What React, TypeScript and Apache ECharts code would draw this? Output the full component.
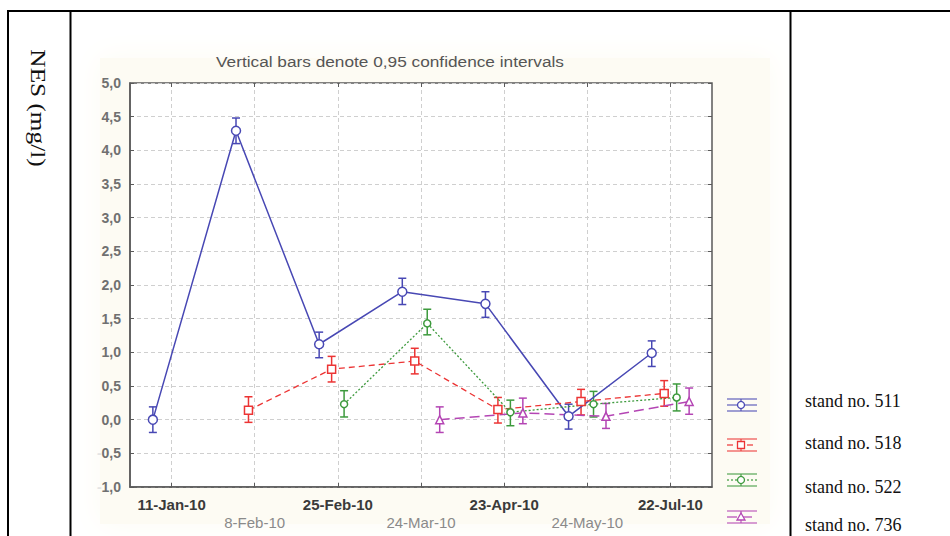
import React, { useEffect, useRef } from "react";
import * as echarts from "echarts";

const categories = ["11-Jan-10", "8-Feb-10", "25-Feb-10", "24-Mar-10", "23-Apr-10", "24-May-10", "22-Jul-10"];
const yTicks = { min: -1, max: 5, step: 0.5 };

const stand511 = [0.0, 4.29, 1.12, 1.9, 1.72, 0.05, 0.99];
const stand511Lo = [-0.19, 4.1, 0.92, 1.71, 1.52, -0.14, 0.79];
const stand511Hi = [0.19, 4.48, 1.3, 2.1, 1.9, 0.23, 1.17];

const stand518 = [null, 0.14, 0.75, 0.87, 0.15, 0.27, 0.39];
const stand518Lo = [null, -0.04, 0.56, 0.68, -0.05, 0.07, 0.2];
const stand518Hi = [null, 0.34, 0.94, 1.06, 0.33, 0.45, 0.58];

const stand522 = [null, null, 0.23, 1.43, 0.11, 0.23, 0.33];
const stand522Lo = [null, null, 0.04, 1.26, -0.09, 0.04, 0.13];
const stand522Hi = [null, null, 0.43, 1.64, 0.29, 0.42, 0.53];

const stand736 = [null, null, null, 0.0, 0.1, 0.05, 0.27];
const stand736Lo = [null, null, null, -0.19, -0.06, -0.13, 0.08];
const stand736Hi = [null, null, null, 0.19, 0.32, 0.24, 0.47];

const seriesNames = ["stand no. 511", "stand no. 518", "stand no. 522", "stand no. 736"];
const titleText = "Vertical bars denote 0,95 confidence intervals";
const yAxisTitle = "NES (mg/l)";

const SANS = "'Liberation Sans', Arial, sans-serif";
const SERIF = "'Liberation Serif', 'Times New Roman', serif";

const styles = [
  { color: "#4848b4", symbol: "circle", size: 9, dash: "solid" as any, width: 1.5, offset: -0.225 },
  { color: "#ec3434", symbol: "rect", size: 8, dash: [6, 4] as any, width: 1.3, offset: -0.075 },
  { color: "#3d9a3d", symbol: "circle", size: 7, dash: [2, 2] as any, width: 1.3, offset: 0.075 },
  { color: "#b445b4", symbol: "triangle", size: 8, dash: [10, 5] as any, width: 1.5, offset: 0.225 },
];

const means = [stand511, stand518, stand522, stand736];
const lows = [stand511Lo, stand518Lo, stand522Lo, stand736Lo];
const highs = [stand511Hi, stand518Hi, stand522Hi, stand736Hi];

export default function App() {
  const ref = useRef<HTMLDivElement>(null);
  useEffect(() => {
    if (!ref.current) return;
    const chart = echarts.init(ref.current, undefined, { renderer: "svg" });

    const series: any[] = [];
    means.forEach((m, si) => {
      const st = styles[si];
      const pts: any[] = [];
      const bars: any[] = [];
      m.forEach((v, i) => {
        if (v === null) return;
        pts.push([i + st.offset, v]);
        bars.push([i + st.offset, lows[si][i], highs[si][i]]);
      });
      series.push({
        type: "custom",
        name: seriesNames[si] + " CI",
        xAxisIndex: 1,
        yAxisIndex: 0,
        z: 3,
        data: bars,
        encode: { x: 0, y: [1, 2] },
        renderItem: (params: any, api: any) => {
          const x = api.value(0);
          const pLo = api.coord([x, api.value(1)]);
          const pHi = api.coord([x, api.value(2)]);
          const hw = 4;
          const s = { stroke: st.color, lineWidth: 1.5 };
          return {
            type: "group",
            children: [
              { type: "line", shape: { x1: pLo[0], y1: pLo[1], x2: pHi[0], y2: pHi[1] }, style: s },
              { type: "line", shape: { x1: pLo[0] - hw, y1: pLo[1], x2: pLo[0] + hw, y2: pLo[1] }, style: s },
              { type: "line", shape: { x1: pHi[0] - hw, y1: pHi[1], x2: pHi[0] + hw, y2: pHi[1] }, style: s },
            ],
          };
        },
      });
      series.push({
        type: "line",
        name: seriesNames[si],
        xAxisIndex: 1,
        yAxisIndex: 0,
        z: 4,
        data: pts,
        symbol: st.symbol,
        symbolSize: st.size,
        showAllSymbol: true,
        lineStyle: { color: st.color, width: st.width, type: st.dash },
        itemStyle: { color: "#ffffff", borderColor: st.color, borderWidth: 1.5 },
      });
    });

    const legendGraphics: any[] = [];
    const iconY = [405, 445, 480, 517];
    const textY = [401, 443, 487, 525];
    styles.forEach((st, i) => {
      const y = iconY[i];
      const x0 = 727, x1 = 757, xc = 741;
      const s = { stroke: st.color, lineWidth: 1.3, opacity: 0.8 };
      legendGraphics.push(
        { type: "line", shape: { x1: x0, y1: y - 6, x2: x1, y2: y - 6 }, style: s },
        { type: "line", shape: { x1: x0, y1: y + 6, x2: x1, y2: y + 6 }, style: s },
        { type: "line", shape: { x1: x0, y1: y, x2: x1, y2: y }, style: { ...s, lineDash: st.dash === "solid" ? null : st.dash } },
        { type: "line", shape: { x1: xc, y1: y - 6, x2: xc, y2: y + 6 }, style: s },
        st.symbol === "rect"
          ? { type: "rect", shape: { x: xc - 3.5, y: y - 3.5, width: 7, height: 7 }, style: { fill: "#fff", stroke: st.color, lineWidth: 1.3 } }
          : st.symbol === "triangle"
          ? { type: "polygon", shape: { points: [[xc, y - 4], [xc + 4, y + 3], [xc - 4, y + 3]] }, style: { fill: "#fff", stroke: st.color, lineWidth: 1.3 } }
          : { type: "circle", shape: { cx: xc, cy: y, r: 3.5 }, style: { fill: "#fff", stroke: st.color, lineWidth: 1.3 } },
        {
          type: "text",
          x: 805,
          y: textY[i],
          style: { text: seriesNames[i], font: `18px ${SERIF}`, fill: "#111", verticalAlign: "middle", align: "left" },
        }
      );
    });

    const yLabel = (v: number) => {
      const s = Math.abs(v).toFixed(1).replace(".", ",");
      return v < 0 ? `{m|-}{n|${s}}` : `{n|${s}}`;
    };

    chart.setOption({
      animation: false,
      backgroundColor: "#ffffff",
      grid: {
        left: 130,
        top: 83,
        width: 582,
        height: 404,
        show: true,
        backgroundColor: "#ffffff",
        borderColor: "#5a5a5a",
        borderWidth: 1.5,
        containLabel: false,
      },
      xAxis: [
        {
          type: "category",
          data: categories,
          boundaryGap: true,
          position: "bottom",
          axisLine: { show: true, onZero: false, lineStyle: { color: "#5a5a5a", width: 1.5 } },
          axisTick: { show: true, inside: true, alignWithLabel: true, length: 4, lineStyle: { color: "#5a5a5a" } },
          splitLine: { show: true, alignWithLabel: true, lineStyle: { color: "#cfcfcf", type: [4, 3], width: 1 } },
          axisLabel: {
            interval: 0,
            margin: 8,
            formatter: (val: string, idx: number) => (idx % 2 === 0 ? `{a|${val}}` : `{e| }\n{b|${val}}`),
            rich: {
              a: { fontFamily: SANS, fontSize: 15, fontWeight: "bold", color: "#3a3a3a", lineHeight: 18 },
              b: { fontFamily: SANS, fontSize: 15, color: "#8a8a8a", lineHeight: 18 },
              e: { fontSize: 15, lineHeight: 18 },
            },
          },
        },
        { type: "value", min: -0.5, max: 6.5, show: false, axisLine: { onZero: false } },
        {
          type: "category",
          data: categories,
          boundaryGap: true,
          position: "top",
          axisLine: { show: false, onZero: false },
          axisTick: { show: true, inside: true, alignWithLabel: true, length: 4, lineStyle: { color: "#5a5a5a" } },
          axisLabel: { show: false },
          splitLine: { show: false },
        },
      ],
      yAxis: [
        {
          type: "value",
          min: yTicks.min,
          max: yTicks.max,
          interval: yTicks.step,
          axisLine: { show: true, onZero: false, lineStyle: { color: "#5a5a5a", width: 1.5 } },
          axisTick: { show: true, inside: true, length: 4, lineStyle: { color: "#5a5a5a" } },
          splitLine: { show: true, lineStyle: { color: "#cfcfcf", type: [4, 3], width: 1 } },
          axisLabel: {
            margin: 9,
            formatter: yLabel,
            rich: {
              n: { fontFamily: SANS, fontSize: 14, fontWeight: "bold", color: "#707070" },
              m: { fontFamily: SANS, fontSize: 14, fontWeight: "bold", color: "#e4e4e4" },
            },
          },
        },
        {
          type: "value",
          position: "right",
          min: yTicks.min,
          max: yTicks.max,
          interval: yTicks.step,
          axisLine: { show: false, onZero: false },
          axisTick: { show: true, inside: true, length: 4, lineStyle: { color: "#5a5a5a" } },
          axisLabel: { show: false },
          splitLine: { show: false },
        },
      ],
      graphic: [
        {
          type: "rect",
          z: -10,
          shape: { x: 100, y: 58, width: 670, height: 466 },
          style: { fill: "#fdfbf3", shadowBlur: 30, shadowColor: "#fdfbf3" },
          silent: true,
        },
        { type: "rect", shape: { x: 7, y: 10, width: 943, height: 2 }, style: { fill: "#000" } },
        { type: "rect", shape: { x: 7, y: 10, width: 2, height: 526 }, style: { fill: "#000" } },
        { type: "rect", shape: { x: 69.5, y: 10, width: 2, height: 526 }, style: { fill: "#000" } },
        { type: "rect", shape: { x: 789.5, y: 10, width: 2, height: 526 }, style: { fill: "#000" } },
        {
          type: "text",
          x: 390,
          y: 61,
          scaleX: 1.15,
          style: { text: titleText, font: `15px ${SANS}`, fill: "#555", align: "center", verticalAlign: "middle" },
        },
        {
          type: "text",
          x: 38,
          y: 108,
          rotation: -Math.PI / 2,
          scaleX: 1.15,
          style: { text: yAxisTitle, font: `22px ${SERIF}`, fill: "#111", align: "center", verticalAlign: "middle" },
        },
        ...legendGraphics,
      ],
      series,
    });
    return () => chart.dispose();
  }, []);
  return <div ref={ref} style={{ position: "fixed", left: 0, top: 0, width: 950, height: 536 }} />;
}
